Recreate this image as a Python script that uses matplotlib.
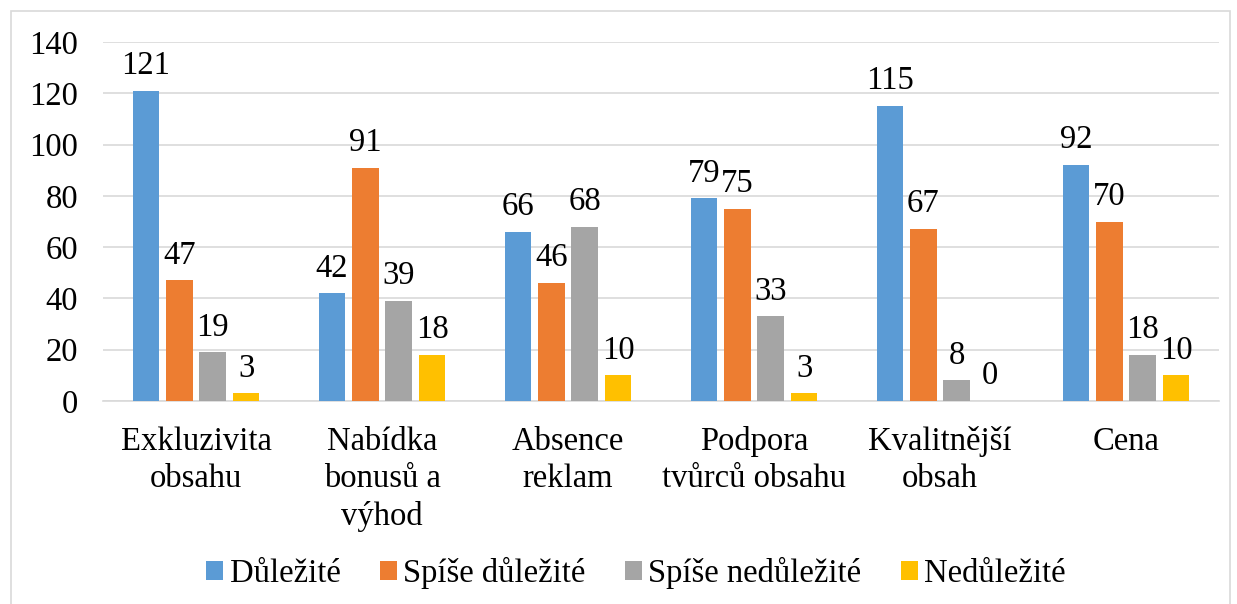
import matplotlib.pyplot as plt
import numpy as np
from matplotlib.patches import Rectangle

plt.rcParams['font.family'] = ['Liberation Serif', 'DejaVu Serif']

kategorie = ["Exkluzivita\nobsahu", "Nabídka\nbonusů a\nvýhod", "Absence\nreklam",
             "Podpora\ntvůrců obsahu", "Kvalitnější\nobsah", "Cena"]
dulezite = [121, 42, 66, 79, 115, 92]
spise_dulezite = [47, 91, 46, 75, 67, 70]
spise_nedulezite = [19, 39, 68, 33, 8, 18]
nedulezite = [3, 18, 10, 3, 0, 10]

serie = [
    ("Důležité", dulezite, '#5B9BD5'),
    ("Spíše důležité", spise_dulezite, '#ED7D31'),
    ("Spíše nedůležité", spise_nedulezite, '#A5A5A5'),
    ("Nedůležité", nedulezite, '#FFC000'),
]

fs = 23.5

fig = plt.figure(figsize=(12.37, 6.04), dpi=100)
ax = fig.add_axes([103 / 1237, 1 - 401 / 604, 1116 / 1237, 359 / 604])

x = np.arange(len(kategorie))
krok = 0.18
sirka = 0.1425
for i, (nazev, hodnoty, barva) in enumerate(serie):
    pos = x + (i - 1.5) * krok
    ax.bar(pos, hodnoty, sirka, color=barva, label=nazev, zorder=3)
    for xp, v in zip(pos, hodnoty):
        ax.annotate(str(v), xy=(xp, v), xytext=(0, 7), textcoords='offset points',
                    ha='center', va='bottom', fontsize=fs)

ax.set_xlim(-0.5, len(kategorie) - 0.5)
ax.set_ylim(0, 140)
ax.set_yticks(range(0, 141, 20))
ax.set_xticks(x)
ax.set_xticklabels(kategorie, fontsize=fs, linespacing=1.29)
ax.tick_params(axis='y', labelsize=fs, length=0, pad=18)
ax.tick_params(axis='x', length=0, pad=18)
ax.grid(axis='y', color='#D9D9D9', linewidth=1.2, zorder=0)
for s in ['top', 'right', 'left']:
    ax.spines[s].set_visible(False)
ax.spines['bottom'].set_color('#D9D9D9')
ax.spines['bottom'].set_linewidth(1.2)

fig.legend(loc='center', bbox_to_anchor=(636 / 1237, 1 - 573 / 604), ncol=4, frameon=False,
           fontsize=fs, handlelength=0.52, handleheight=0.52, handletextpad=0.2,
           columnspacing=1.2)

fig.patches.append(Rectangle((11 / 1237, -0.01), (1230 - 11) / 1237, 1 - 11 / 604 + 0.01,
                             transform=fig.transFigure, fill=False,
                             edgecolor='#D9D9D9', linewidth=1.2))

fig.savefig('out.png', dpi=100)
